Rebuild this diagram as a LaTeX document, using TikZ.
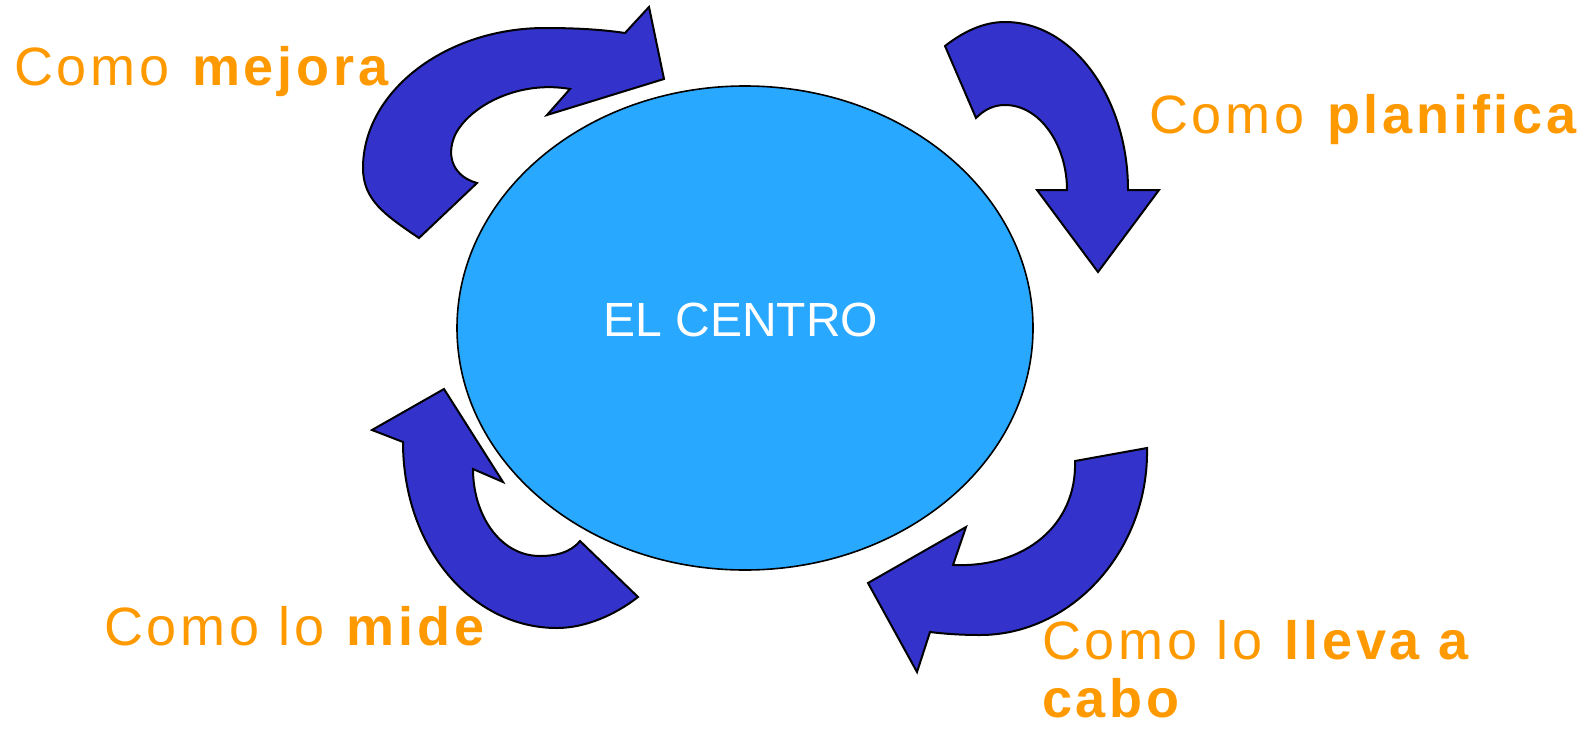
\documentclass[tikz,border=0pt]{standalone}
\usepackage{fontspec}
\usepackage{tikz}
\usetikzlibrary{shapes.geometric}
\newfontfamily\lemafont[LetterSpace=7]{Liberation Sans}
\newfontfamily\centrofont{Liberation Sans}
\definecolor{flechaazul}{RGB}{51,51,204}
\definecolor{centroazul}{RGB}{41,168,255}
\definecolor{naranja}{RGB}{255,153,0}

\begin{document}
\begin{tikzpicture}[x=1pt,y=-1pt,
	flecha/.style={fill=flechaazul,draw=black,line width=2pt},
	lema/.style={anchor=base west,inner sep=0pt,text=naranja,font=\lemafont\fontsize{54}{58}\selectfont}]
\useasboundingbox (0,0) rectangle (1586,728);
% el centro
\node[ellipse,draw=black,line width=1.6pt,fill=centroazul,minimum width=576pt,minimum height=484pt] (centro) at (745,328) {};
\node[inner sep=0pt,text=white,font=\centrofont\fontsize{48}{56}\selectfont] (centrotxt) at (741,320) {EL CENTRO};
% flechas
\filldraw[flecha] (419,238) .. controls (385,215) and (363,200) .. (363,168)
	.. controls (363,92) and (445,28) .. (545,28) .. controls (580,28) and (605,30) .. (625,33)
	-- (649,7) -- (664,79) -- (547,115) -- (570,89)
	.. controls (520,80) and (470,105) .. (455,135) .. controls (445,158) and (455,177) .. (477,183) -- cycle;
\filldraw[flecha] (945,46) .. controls (963,32) and (983,22) .. (1005,22)
	.. controls (1073,22) and (1128,98) .. (1128,190)
	-- (1159,190) -- (1098,272) -- (1037,190) -- (1067,190)
	.. controls (1067,145) and (1040,105) .. (1005,105) .. controls (993,105) and (984,110) .. (976,118) -- cycle;
\filldraw[flecha] (1147,448) .. controls (1149,550) and (1072,635) .. (980,635)
	.. controls (963,635) and (946,634) .. (930,632)
	-- (917,672) -- (868,583) -- (966,527) -- (953,565)
	.. controls (1025,568) and (1077,525) .. (1075,461) -- cycle;
\filldraw[flecha] (403,442) .. controls (403,548) and (472,628) .. (557,628)
	.. controls (585,628) and (615,615) .. (638,597) -- (580,541)
	.. controls (570,553) and (555,556) .. (540,556) .. controls (500,556) and (473,515) .. (473,469)
	-- (503,482) -- (444,389) -- (372,430) -- cycle;
% textos
\node[lema] (mejora) at (14,85) {Como \textbf{mejora}};
\node[lema] (planifica) at (1149,133) {Como \textbf{planifica}};
\node[lema] (mide) at (104,645) {Como lo \textbf{mide}};
\node[lema,align=left] (lleva) at (1042,717) {Como lo \textbf{lleva a}\\\textbf{cabo}};
\end{tikzpicture}
\end{document}
